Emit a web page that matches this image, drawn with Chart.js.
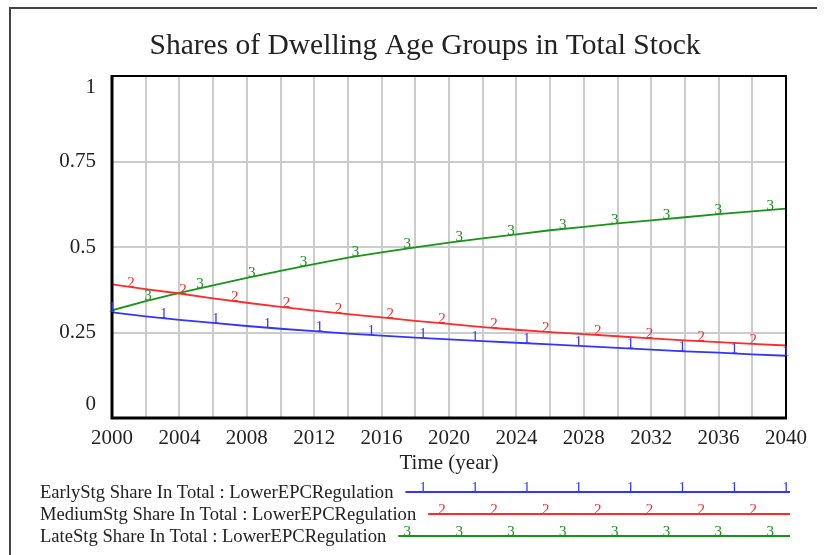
<!DOCTYPE html>
<html lang="en">
<head>
<meta charset="UTF-8">
<title>Shares of Dwelling Age Groups in Total Stock</title>
<script src="https://cdn.jsdelivr.net/npm/chart.js@4.4.0/dist/chart.umd.min.js"></script>
<style>
    html, body { margin: 0; padding: 0; background: #fff; }
    #wrap { position: relative; width: 825px; height: 555px; }
</style>
</head>
<body>
<div id="wrap"><canvas id="chart" width="825" height="555"></canvas></div>
<script>
// ---- data ----
const chartTitle = 'Shares of Dwelling Age Groups in Total Stock';
const xAxisTitle = 'Time (year)';
const years = [2000, 2002, 2004, 2006, 2008, 2010, 2012, 2014, 2016, 2018, 2020,
               2022, 2024, 2026, 2028, 2030, 2032, 2034, 2036, 2038, 2040];
const earlyShare  = [0.309, 0.297, 0.287, 0.278, 0.269, 0.261, 0.254, 0.247, 0.241, 0.235, 0.230,
                     0.225, 0.220, 0.215, 0.210, 0.205, 0.200, 0.195, 0.191, 0.186, 0.182];
const mediumShare = [0.391, 0.377, 0.364, 0.350, 0.337, 0.325, 0.314, 0.304, 0.294, 0.284, 0.275,
                     0.266, 0.258, 0.251, 0.245, 0.239, 0.233, 0.227, 0.222, 0.217, 0.212];
const lateShare   = [0.315, 0.342, 0.366, 0.388, 0.410, 0.430, 0.450, 0.469, 0.484, 0.499, 0.513,
                     0.525, 0.537, 0.549, 0.559, 0.569, 0.578, 0.587, 0.596, 0.604, 0.612];
const seriesNames = [
    'EarlyStg Share In Total : LowerEPCRegulation',
    'MediumStg Share In Total : LowerEPCRegulation',
    'LateStg Share In Total : LowerEPCRegulation'
];
const seriesDigits = ['1', '2', '3'];
const yTicks = [0, 0.25, 0.5, 0.75, 1];
// first number marker of each series, in years after 2000; markers repeat every 40/13 years
const markerStart = [0, 1.13, 2.14];
const markerStep = 40 / 13;

const colors = ['#3434ff', '#ff2a2a', '#189418'];
const serif = "'Liberation Serif', 'Times New Roman', serif";

function pts(vals) {
    return years.map((yr, i) => ({ x: yr, y: vals[i] }));
}

// Vensim-like decorations: frame, number markers, y labels, title, legend
const vensimPlugin = {
    id: 'vensim',
    afterDraw(chart) {
        const ctx = chart.ctx;
        const area = chart.chartArea;
        const xs = chart.scales.x, ys = chart.scales.y;
        ctx.save();

        // outer frame (top and left edge)
        ctx.strokeStyle = '#444';
        ctx.lineWidth = 2;
        ctx.beginPath();
        ctx.moveTo(10, 555);
        ctx.lineTo(10, 8);
        ctx.lineTo(817, 8);
        ctx.stroke();

        // plot frame
        ctx.strokeStyle = '#000';
        ctx.lineWidth = 2;
        ctx.beginPath();
        ctx.moveTo(area.left, area.top);
        ctx.lineTo(area.right, area.top);
        ctx.lineTo(area.right, area.bottom);
        ctx.stroke();
        ctx.lineWidth = 3;
        ctx.beginPath();
        ctx.moveTo(area.left, area.top - 1);
        ctx.lineTo(area.left, area.bottom);
        ctx.lineTo(area.right + 1, area.bottom);
        ctx.stroke();

        // number markers on the lines
        ctx.font = '15px ' + serif;
        ctx.textAlign = 'center';
        ctx.textBaseline = 'middle';
        const allSeries = [earlyShare, mediumShare, lateShare];
        const markerX = [];
        allSeries.forEach((vals, s) => {
            ctx.fillStyle = colors[s];
            markerX[s] = [];
            for (let t = 2000 + markerStart[s]; t <= 2040.01; t += markerStep) {
                const i = Math.min(Math.floor((t - 2000) / 2), years.length - 2);
                const f = (t - years[i]) / 2;
                const v = vals[i] + (vals[i + 1] - vals[i]) * f;
                const px = xs.getPixelForValue(t);
                markerX[s].push(px);
                ctx.fillText(seriesDigits[s], px, ys.getPixelForValue(v) - 4);
            }
        });

        // y tick labels (Vensim pulls the end labels inward)
        ctx.fillStyle = '#222';
        ctx.font = '21px ' + serif;
        ctx.textAlign = 'right';
        yTicks.forEach((v, i) => {
            let py = ys.getPixelForValue(v);
            if (i === 0) py -= 14;
            if (i === yTicks.length - 1) py += 11;
            ctx.fillText(String(v), area.left - 16, py);
        });

        // title
        ctx.font = '29.5px ' + serif;
        ctx.textAlign = 'center';
        ctx.fillText(chartTitle, 425, 46);

        // legend
        const rowY = [493, 515, 537];
        ctx.font = '18.6px ' + serif;
        seriesNames.forEach((name, s) => {
            ctx.textAlign = 'left';
            ctx.fillStyle = '#222';
            ctx.fillText(name, 40, rowY[s]);
            const x0 = 40 + ctx.measureText(name).width + 12;
            const x1 = area.right + 4;
            const ly = rowY[s] - 1;
            ctx.strokeStyle = colors[s];
            ctx.lineWidth = 2;
            ctx.beginPath();
            ctx.moveTo(x0, ly);
            ctx.lineTo(x1, ly);
            ctx.stroke();
            ctx.save();
            ctx.font = '15px ' + serif;
            ctx.textAlign = 'center';
            ctx.fillStyle = colors[s];
            markerX[s].forEach(px => {
                if (px >= x0 && px <= x1) ctx.fillText(seriesDigits[s], px, ly - 4);
            });
            ctx.restore();
        });

        ctx.restore();
    }
};

const datasets = [earlyShare, mediumShare, lateShare].map((vals, s) => ({
    label: seriesNames[s],
    data: pts(vals),
    borderColor: colors[s],
    borderWidth: 1.8,
    pointRadius: 0,
    tension: 0,
    fill: false
}));

new Chart(document.getElementById('chart'), {
    type: 'line',
    data: { datasets: datasets },
    options: {
        responsive: false,
        animation: false,
        layout: { padding: { left: 112, top: 76, right: 39, bottom: 79 } },
        plugins: {
            legend: { display: false },
            title: { display: false },
            tooltip: { enabled: false }
        },
        scales: {
            x: {
                type: 'linear',
                min: 2000,
                max: 2040,
                afterFit: s => { s.height = 58; },
                ticks: {
                    stepSize: 2,
                    autoSkip: false,
                    maxRotation: 0,
                    padding: 8,
                    color: '#222',
                    font: { family: serif, size: 21 },
                    callback: v => (v % 4 === 0 ? String(v) : '')
                },
                grid: { color: '#cccccc', lineWidth: 2, drawTicks: false },
                border: { display: false },
                title: {
                    display: true,
                    text: xAxisTitle,
                    color: '#222',
                    font: { family: serif, size: 21 },
                    padding: { top: 0, bottom: 0 }
                }
            },
            y: {
                min: 0,
                max: 1,
                afterFit: s => { s.width = 0; },
                ticks: { stepSize: 0.25, display: false },
                grid: { color: '#cccccc', lineWidth: 2, drawTicks: false },
                border: { display: false }
            }
        }
    },
    plugins: [vensimPlugin]
});
</script>
</body>
</html>
